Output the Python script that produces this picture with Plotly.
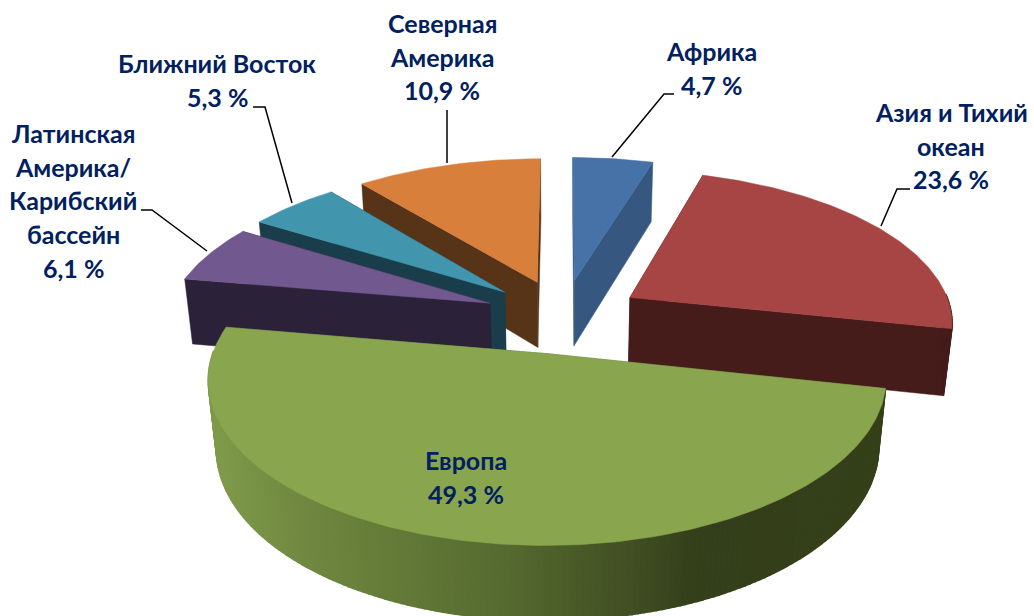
import math
import plotly.graph_objects as go

categories = ["Африка", "Азия и Тихий океан", "Европа", "Латинская Америка/ Карибский бассейн", "Ближний Восток", "Северная Америка"]
values = [4.7, 23.6, 49.3, 6.1, 5.3, 10.9]
label_lines = [["Африка"], ["Азия и Тихий", "океан"], ["Европа"], ["Латинская", "Америка/", "Карибский", "бассейн"], ["Ближний Восток"], ["Северная", "Америка"]]
top_colors = ["#4672a8", "#a64543", "#89a54e", "#71588f", "#4196ae", "#d87f3b"]
side_colors = ["#365880", "#451c1a", "#5a6f33", "#2b2139", "#193d4a", "#573417"]
draw_order = [0, 5, 4, 1, 3, 2]
label_x = [711, 951, 466, 73, 217, 442]
label_y = [51, 112, 460, 133, 63, 23]
leaders = [[(612, 157), (664, 94), (674, 94)], [(881, 226), (897, 189), (910, 189)], None,
           [(207, 251), (152, 210), (141, 210)], [(292, 203), (265, 107), (253, 107)], [(447, 163), (447, 110)]]
TEXT = "#002060"
FONT = "Lato, Roboto, sans-serif"
CX, CY, F, FT, K, DEPTH, M, EXPL = 563, 316, 323, 151, 0.148, 68, 0.022, 0.245
LINE_H = 33.7


def proj(X, D, z=0.0):
    s = 1.0 / (1 + K * D + M * z)
    return CX + F * X * s, CY - FT * D * s + DEPTH * z * s


def lerp_color(x):
    stops = [(215, (126, 154, 74)), (300, (112, 136, 64)), (500, (86, 107, 48)), (640, (63, 77, 34)), (695, (52, 63, 27)), (900, (53, 64, 25))]
    for (a, ca), (b, cb) in zip(stops, stops[1:]):
        if x <= b:
            t = max(0, (x - a) / (b - a))
            return "rgb(%d,%d,%d)" % tuple(round(p + (q - p) * t) for p, q in zip(ca, cb))
    return "rgb(53,64,25)"


fig = go.Figure()


def poly(pts, color, lw=0.5):
    xs = [p[0] for p in pts] + [pts[0][0]]
    ys = [p[1] for p in pts] + [pts[0][1]]
    fig.add_trace(go.Scatter(x=xs, y=ys, mode="lines", fill="toself", fillcolor=color,
                             line=dict(color=color, width=lw), hoverinfo="skip", showlegend=False))


starts = []
acc = 0.0
for v in values:
    starts.append(acc)
    acc += v
total = acc

for i in draw_order:
    a0 = starts[i] / total * 2 * math.pi
    a1 = (starts[i] + values[i]) / total * 2 * math.pi
    mid = (a0 + a1) / 2
    ox, od = EXPL * math.sin(mid), EXPL * math.cos(mid)
    n = max(6, int((a1 - a0) * 60))
    angs = [a0 + (a1 - a0) * j / n for j in range(n + 1)]
    rim = lambda a, z: proj(ox + math.sin(a), od + math.cos(a), z)
    apex = lambda z: proj(ox, od, z)
    # radial faces (hidden one first)
    for a in sorted([a0, a1], key=lambda f: -math.cos(f)):
        poly([apex(0), rim(a, 0), rim(a, 1), apex(1)], side_colors[i])
    # outer wall, front part only
    for p, q in zip(angs, angs[1:]):
        if math.cos((p + q) / 2) < 0.02:
            col = lerp_color(rim((p + q) / 2, 0)[0]) if i == 2 else side_colors[i]
            poly([rim(p, 0), rim(q, 0), rim(q, 1), rim(p, 1)], col, 1.6)
    # top
    poly([apex(0)] + [rim(a, 0) for a in angs], top_colors[i])

shapes = []
for pts in leaders:
    if pts:
        path = "M " + " L ".join(f"{x},{y}" for x, y in pts)
        shapes.append(dict(type="path", path=path, xref="x", yref="y", line=dict(color="black", width=1.5)))

annotations = []
for i, lines in enumerate(label_lines):
    all_lines = lines + [f"{values[i]:.1f}".replace(".", ",") + " %"]
    for j, t in enumerate(all_lines):
        annotations.append(dict(x=label_x[i], y=label_y[i] + j * LINE_H, text=f"<b>{t}</b>", showarrow=False,
                                xanchor="center", yanchor="middle", font=dict(family=FONT, size=25, color=TEXT)))

fig.update_layout(width=1034, height=616, margin=dict(l=0, r=0, t=0, b=0), paper_bgcolor="white", plot_bgcolor="white",
                  xaxis=dict(range=[0, 1034], visible=False, fixedrange=True),
                  yaxis=dict(range=[616, 0], visible=False, fixedrange=True),
                  shapes=shapes, annotations=annotations, showlegend=False)
fig.write_html("out.html", config=dict(displayModeBar=False),
               post_script="document.body.style.margin='0';document.body.style.overflow='hidden';")
